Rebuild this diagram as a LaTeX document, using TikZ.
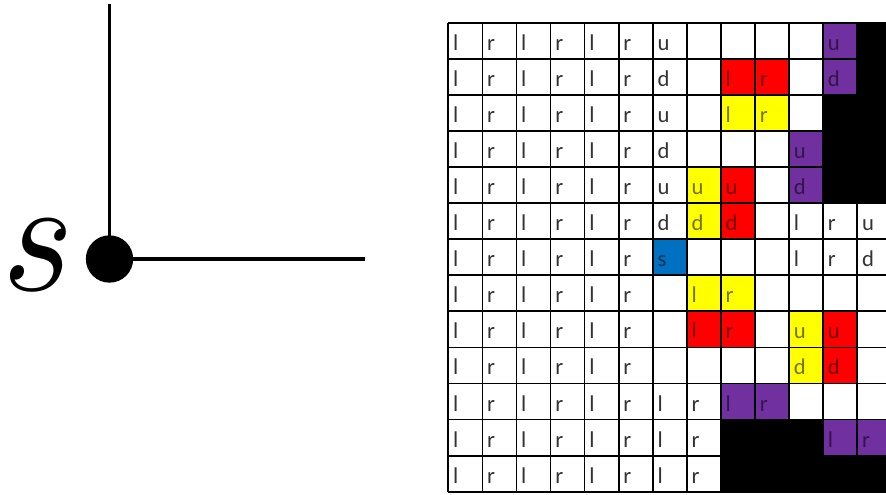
\documentclass[tikz,border=0pt]{standalone}
\usepackage{fontspec}
\setmainfont{Carlito}
\definecolor{xred}{HTML}{FF0000}
\definecolor{xyel}{HTML}{FFFF00}
\definecolor{xpur}{HTML}{7030A0}
\definecolor{xblu}{HTML}{0070C0}
% #1 row, #2 col, #3 colour
\newcommand{\bx}[3]{\fill[#3] ({448.3+34.08*#2},{22.7+36.08*#1}) rectangle ++(34.08,36.08);}
% white-cell letter: #1 row, #2 col, #3 letter
\newcommand{\tx}[3]{\node[lettr] (t#1-#2) at ({452.8+34.08*#2},{50.2+36.08*#1}) {#3};}
% coloured-cell letter: #1 row, #2 col, #3 letter, #4 colour
\newcommand{\ctx}[4]{\bx{#1}{#2}{#4}\node[lettr, text=#4!45!black] (t#1-#2) at ({452.8+34.08*#2},{50.2+36.08*#1}) {#3};}
\tikzset{
  lettr/.style={anchor=base west, inner sep=0pt, font=\fontsize{17}{17}\selectfont, text=black!80},
  gridline/.style={line width=1.3pt, black},
  axisline/.style={line width=2.6pt, black},
  dotnode/.style={circle, fill=black, inner sep=0pt, minimum size=35.5pt}
}
\begin{document}
\begin{tikzpicture}[x=0.75pt, y=-0.75pt]
\useasboundingbox (0,0) rectangle (886,494);
% left figure
\node[dotnode] (s0) at (109.5,259) {};
\coordinate (top) at (109.5,4);
\coordinate (right) at (365,259);
\draw[axisline] (s0.center) -- (top);
\draw[axisline] (s0) -- (right);
\node[inner sep=0pt] (slab) at (38,255) {\scalebox{11.4}[12.3]{$s$}};
% grid
\begin{scope}
\clip (440,0) rectangle (886,494);
% coloured cells with letters
\ctx{0}{11}{u}{xpur}
\ctx{1}{8}{l}{xred}
\ctx{1}{9}{r}{xred}
\ctx{1}{11}{d}{xpur}
\ctx{2}{8}{l}{xyel}
\ctx{2}{9}{r}{xyel}
\ctx{3}{10}{u}{xpur}
\ctx{4}{7}{u}{xyel}
\ctx{4}{8}{u}{xred}
\ctx{4}{10}{d}{xpur}
\ctx{5}{7}{d}{xyel}
\ctx{5}{8}{d}{xred}
\ctx{6}{6}{s}{xblu}
\ctx{7}{7}{l}{xyel}
\ctx{7}{8}{r}{xyel}
\ctx{8}{7}{l}{xred}
\ctx{8}{8}{r}{xred}
\ctx{8}{10}{u}{xyel}
\ctx{8}{11}{u}{xred}
\ctx{9}{10}{d}{xyel}
\ctx{9}{11}{d}{xred}
\ctx{10}{8}{l}{xpur}
\ctx{10}{9}{r}{xpur}
\ctx{11}{11}{l}{xpur}
\ctx{11}{12}{r}{xpur}
% grid lines
\foreach \k in {0,...,13}
  \draw[gridline] (448.3,{22.7+36.08*\k}) -- (890,{22.7+36.08*\k});
\foreach \k in {0,...,12}
  \draw[gridline] ({448.3+34.08*\k},22.7) -- ({448.3+34.08*\k},491.7);
% black cells
\bx{0}{12}{black}
\bx{1}{12}{black}
\foreach \r in {2,3,4} {\bx{\r}{11}{black}\bx{\r}{12}{black}}
\foreach \c in {8,9,10} {\bx{11}{\c}{black}}
\foreach \c in {8,...,12} {\bx{12}{\c}{black}}
% white-cell letters
\foreach \r in {0,...,12} {
  \tx{\r}{0}{l}\tx{\r}{1}{r}\tx{\r}{2}{l}\tx{\r}{3}{r}\tx{\r}{4}{l}\tx{\r}{5}{r}
}
\foreach \r in {10,11,12} {\tx{\r}{6}{l}\tx{\r}{7}{r}}
\tx{0}{6}{u}
\tx{1}{6}{d}
\tx{2}{6}{u}
\tx{3}{6}{d}
\tx{4}{6}{u}
\tx{5}{6}{d}
\tx{5}{10}{l}
\tx{5}{11}{r}
\tx{5}{12}{u}
\tx{6}{10}{l}
\tx{6}{11}{r}
\tx{6}{12}{d}
\end{scope}
\end{tikzpicture}
\end{document}
